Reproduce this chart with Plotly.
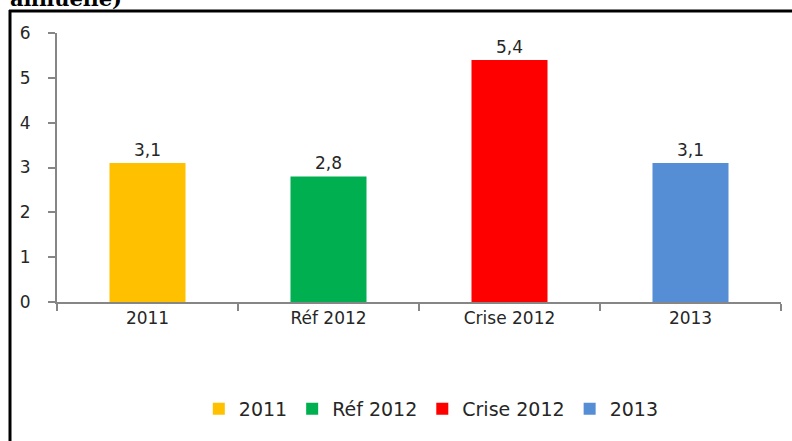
import plotly.graph_objects as go

categories = ["2011", "Réf 2012", "Crise 2012", "2013"]
values = [3.1, 2.8, 5.4, 3.1]
colors = ["#FFC000", "#00B050", "#FF0000", "#558ED5"]
y_ticks = [0, 1, 2, 3, 4, 5, 6]

W, H = 792, 441
L, R, T, B = 57, 11, 33, 139
pw, ph = W - L - R, H - T - B

def px(x):
    return (x - L) / pw

def py(y):
    return (H - B - y) / ph

fig = go.Figure()
for c, v, col in zip(categories, values, colors):
    fig.add_trace(go.Bar(
        x=[c], y=[v], name=c, marker=dict(color=col, line=dict(width=0)),
        width=0.42, text=[v], texttemplate="%{y:.1f}", textposition="outside",
        textfont=dict(family="DejaVu Sans", size=17, color="#262626"),
        cliponaxis=False,
    ))

fig.update_layout(
    width=W, height=H, margin=dict(l=L, r=R, t=T, b=B),
    paper_bgcolor="white", plot_bgcolor="white",
    barmode="relative", separators=", ", bargap=0.58,
    font=dict(family="DejaVu Sans", size=17, color="#262626"),
    showlegend=True,
    legend=dict(orientation="h", x=0.517, xanchor="center", y=py(409), yanchor="middle",
                font=dict(family="DejaVu Sans", size=19, color="#262626"),
                itemwidth=30, tracegroupgap=0),
    xaxis=dict(categoryorder="array", categoryarray=categories, showline=True,
               linecolor="#868686", linewidth=2, ticks="outside", ticklen=7,
               tickcolor="#868686", tickwidth=2, tickson="boundaries",
               showgrid=False, zeroline=False, tickfont=dict(size=17)),
    yaxis=dict(range=[0, 6], tickvals=y_ticks, showline=True, linecolor="#868686",
               linewidth=2, ticks="outside", ticklen=7, tickcolor="#868686", tickwidth=2,
               showgrid=False, zeroline=False, tickfont=dict(size=17), ticklabelstandoff=14),
    shapes=[
        dict(type="line", xref="paper", yref="paper", x0=px(10), x1=px(10), y0=py(10), y1=py(445),
             line=dict(color="black", width=3)),
        dict(type="line", xref="paper", yref="paper", x0=px(9), x1=px(800), y0=py(11), y1=py(11),
             line=dict(color="black", width=3)),
    ],
    annotations=[
        dict(text="<b>annuelle)</b>", xref="paper", yref="paper", x=px(8), y=py(13),
             xanchor="left", yanchor="bottom", showarrow=False,
             font=dict(family="DejaVu Serif", size=21, color="black")),
    ],
)

fig.write_html("out.html", config={"displayModeBar": False},
               post_script="document.body.style.margin='0';document.body.style.padding='0';")
